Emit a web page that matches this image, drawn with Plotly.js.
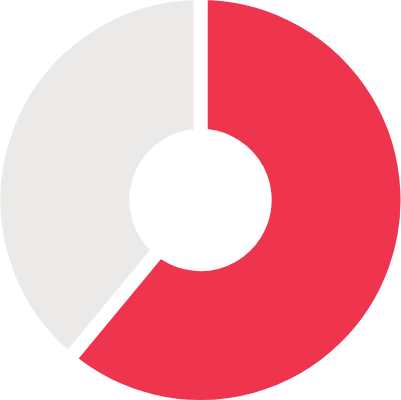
<!DOCTYPE html>
<html>
<head>
<meta charset="utf-8">
<script src="https://cdn.plot.ly/plotly-3.0.1.min.js"></script>
<style>
  html, body { margin: 0; padding: 0; background: #fff; overflow: hidden; }
  /* the white slice border also strokes the outer rim; push that rim just off-screen */
  #donut { position: absolute; left: -7px; top: -7px; width: 415px; height: 414px; }
</style>
</head>
<body>
<div id="donut"></div>
<script>
const labels = ["Filled", "Remaining"];
const values = [61, 39];
const colors = ["#ef344e", "#ebeae9"];

Plotly.newPlot("donut", [{
    type: "pie",
    labels: labels,
    values: values,
    hole: 0.31,
    sort: false,
    direction: "clockwise",
    rotation: 0,
    textinfo: "none",
    hoverinfo: "label+percent",
    marker: {
        colors: colors,
        line: { color: "#ffffff", width: 14 }
    }
}], {
    width: 415,
    height: 414,
    margin: { l: 0, r: 0, t: 0, b: 0, pad: 0 },
    showlegend: false,
    paper_bgcolor: "#ffffff"
}, { displayModeBar: false, staticPlot: true });
</script>
</body>
</html>
